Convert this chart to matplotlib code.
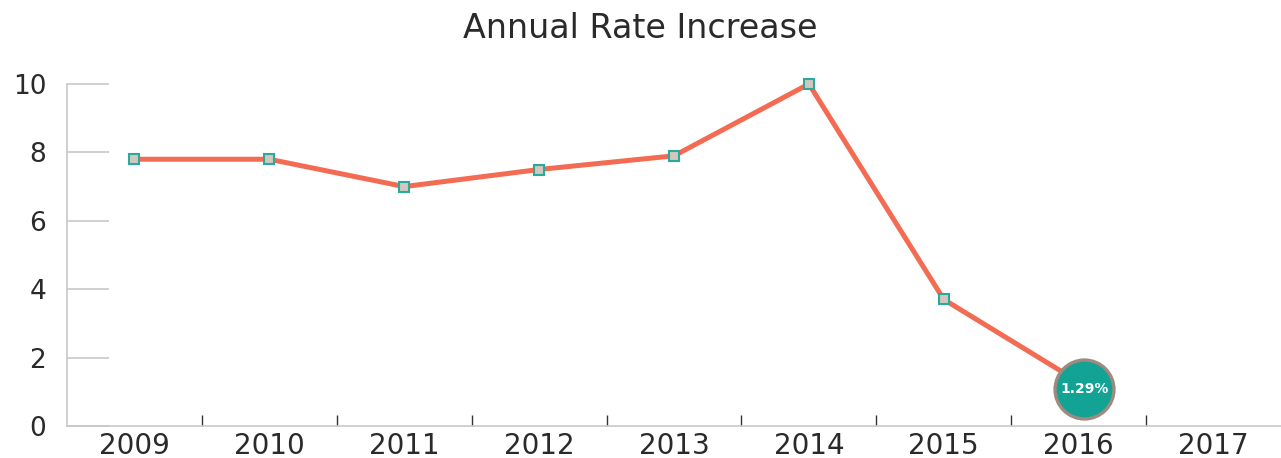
import matplotlib.pyplot as plt
import matplotlib.transforms as mtransforms
from matplotlib.ticker import FixedLocator

years = ["2009", "2010", "2011", "2012", "2013", "2014", "2015", "2016", "2017"]
rates = [7.8, 7.8, 7.0, 7.5, 7.9, 10.0, 3.7, 1.29]
highlight_label = "1.29%"
y_ticks = [0, 2, 4, 6, 8, 10]

plt.rcParams['font.family'] = ['DejaVu Sans']

fig = plt.figure(figsize=(12.81, 4.58), dpi=100)
ax = fig.add_axes([67 / 1281, 32 / 458, 1214 / 1281, 342 / 458])

xs = list(range(len(rates)))
ax.plot(xs, rates, color="#F26B52", linewidth=3.6, zorder=2, clip_on=False)
ax.plot(xs[:-1], rates[:-1], linestyle="None", marker="s", markersize=7.5,
        markerfacecolor="#D3C8BF", markeredgecolor="#2AAA9B",
        markeredgewidth=1.5, zorder=3, clip_on=False)

# highlighted last value, badge sits a little right/below the point
shift = mtransforms.ScaledTranslation(5.5 / 100, -7 / 100, fig.dpi_scale_trans)
badge = ax.transData + shift
ax.scatter([xs[-1]], [rates[-1]], s=1800, color="#13A394",
           edgecolors="#9E8A7E", linewidths=2.4, zorder=4, transform=badge,
           clip_on=False)
ax.text(xs[-1], rates[-1], highlight_label, color="white", fontsize=10,
        fontweight="bold", ha="center", va="center", zorder=5,
        transform=badge)

ax.set_xlim(-0.5, len(years) - 0.5)
ax.set_ylim(0, 10)
ax.set_xticks(range(len(years)))
ax.set_xticklabels(years)
ax.xaxis.set_minor_locator(FixedLocator([i + 0.5 for i in range(len(years) - 1)]))
ax.set_yticks(y_ticks)

ax.tick_params(axis="x", which="major", length=0, labelsize=20, pad=4,
               labelcolor="#2a2a2a")
ax.tick_params(axis="x", which="minor", direction="in", length=8,
               width=1, color="#333333")
ax.tick_params(axis="y", direction="in", length=30, width=1.2,
               color="#C8C8C8", labelsize=19, pad=15, labelcolor="#2a2a2a")

for side in ["top", "right"]:
    ax.spines[side].set_visible(False)
for side in ["left", "bottom"]:
    ax.spines[side].set_color("#C8C8C8")
    ax.spines[side].set_linewidth(1.2)

fig.text(0.5, 1 - 28 / 458, "Annual Rate Increase", ha="center", va="center",
         fontsize=24, color="#2a2a2a")

fig.savefig("out.png", dpi=100)
plt.close()
